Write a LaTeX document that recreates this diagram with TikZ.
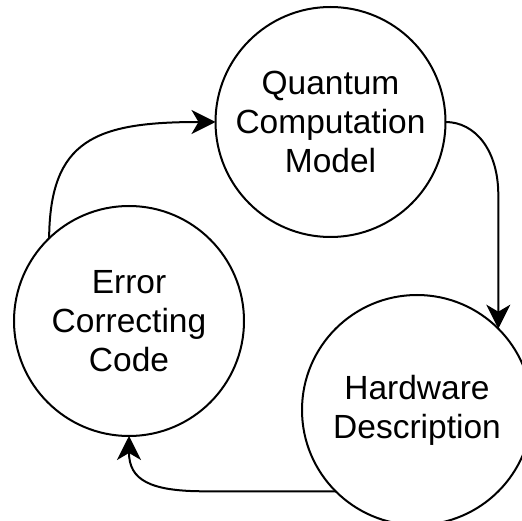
\documentclass[tikz,border=0pt]{standalone}
\usepackage{fontspec}
\setmainfont{Liberation Sans}
\usetikzlibrary{arrows.meta}
\tikzset{
  bubble/.style={draw=black, line width=2pt, circle, minimum size=230pt, inner sep=0pt, outer sep=0pt,
    align=center, font=\fontsize{33.5}{39}\selectfont},
  conn/.style={draw=black, line width=2pt, -{Stealth[length=24pt,width=24pt,inset=7pt]}}
}
\begin{document}
\begin{tikzpicture}[x=1pt,y=-1pt]
\useasboundingbox (0,0) rectangle (522,521);
\node[bubble] (qcm) at (330.5,122) {Quantum\\Computation\\Model};
\node[bubble] (ecc) at (129,321) {Error\\Correcting\\Code};
\node[bubble] (hd) at (417,410) {Hardware\\Description};
\draw[conn] (ecc.134) .. controls (50,140) and (95,122) .. (qcm.west);
\draw[conn] (qcm.east) .. controls (475,122) and (498.3,150) .. (498.3,195) -- (hd.45);
\draw[conn] (hd.225) -- (205,491.3) .. controls (150,491.3) and (129,480) .. (ecc.south);
\end{tikzpicture}
\end{document}
